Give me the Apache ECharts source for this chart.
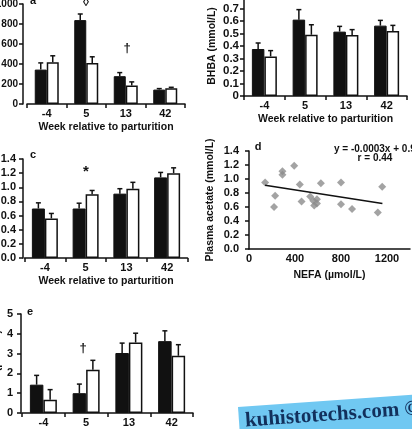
<!DOCTYPE html>
<html>
<head>
<meta charset="utf-8">
<script src="https://cdn.jsdelivr.net/npm/echarts@6/dist/echarts.min.js"></script>
<style>
  html, body { margin: 0; padding: 0; background: #fff; }
  #chart { width: 412px; height: 429px; }
</style>
</head>
<body>
<div id="chart"></div>
<script>
const weeks = ['-4', '5', '13', '42'];

// panel a
const aBlack = [344, 839, 278, 144];
const aBlackErr = [67, 61, 36, 10];
const aWhite = [418, 411, 184, 157];
const aWhiteErr = [64, 61, 37, 10];

// panel b, BHBA
const bBlack = [0.376, 0.611, 0.515, 0.563];
const bBlackErr = [0.048, 0.08, 0.042, 0.042];
const bWhite = [0.317, 0.49, 0.488, 0.52];
const bWhiteErr = [0.046, 0.08, 0.043, 0.045];

// panel c
const cBlack = [0.70, 0.70, 0.91, 1.14];
const cBlackErr = [0.08, 0.075, 0.07, 0.07];
const cWhite = [0.56, 0.90, 0.98, 1.20];
const cWhiteErr = [0.07, 0.055, 0.09, 0.075];

// panel d, NEFA vs acetate
const nefa = [140, 227, 218, 291, 291, 393, 442, 457, 532, 559, 567, 591, 591, 625, 800, 800, 896, 1120, 1158];
const acetate = [0.95, 0.76, 0.60, 1.11, 1.06, 1.19, 0.92, 0.68, 0.75, 0.69, 0.62, 0.71, 0.65, 0.94, 0.95, 0.64, 0.57, 0.52, 0.89];
const trendX = [140, 1160];
const trendY = [0.91, 0.65];

// panel e
const eBlack = [1.43, 1.0, 3.03, 3.63];
const eBlackErr = [0.47, 0.46, 0.5, 0.52];
const eWhite = [0.67, 2.18, 3.56, 2.89];
const eWhiteErr = [0.51, 0.48, 0.47, 0.56];

const ink = '#111';
const font = 'Liberation Sans, Arial, sans-serif';
const axisLine = { show: true, lineStyle: { color: ink, width: 1.5 } };
const tick = { show: true, length: 4, lineStyle: { color: ink, width: 1.5 } };
const labelStyle = { color: ink, fontSize: 11, fontWeight: 'bold', fontFamily: font };
const nameStyle = { color: ink, fontSize: 10.5, fontWeight: 'bold', fontFamily: font };

const grids = [
  { left: 27, top: 4, width: 158, height: 100 },
  { left: 244, top: -4, width: 163, height: 100 },
  { left: 24.5, top: 159, width: 163, height: 99 },
  { left: 249, top: 151, width: 161, height: 98 },
  { left: 22, top: 314, width: 171, height: 99 }
].map(g => Object.assign({ outerBoundsMode: 'none', containLabel: false }, g));

function catAxis(gridIndex, name) {
  return {
    type: 'category', gridIndex: gridIndex, data: weeks,
    axisLine: axisLine, axisTick: tick,
    axisLabel: Object.assign({}, labelStyle, { margin: 4 }),
    name: name || '', nameLocation: 'middle', nameGap: 18,
    nameTextStyle: Object.assign({ verticalAlign: 'top' }, nameStyle)
  };
}

function valAxis(gridIndex, max, interval, fmt, opts) {
  return {
    type: 'value', gridIndex: gridIndex, min: 0, max: max, interval: interval,
    offset: opts.offset || 0,
    splitLine: { show: false }, axisLine: axisLine, axisTick: tick,
    axisLabel: Object.assign({}, labelStyle, { margin: opts.margin, formatter: fmt, fontSize: opts.size || 11 }),
    name: opts.name || '', nameLocation: 'middle', nameGap: opts.nameGap || 20,
    nameTextStyle: nameStyle
  };
}

const plain = v => String(v);
const fix1 = v => v.toFixed(1);

function bars(idx, black, white, w) {
  return [
    { type: 'bar', xAxisIndex: idx, yAxisIndex: idx, data: black, barWidth: w, barGap: '0%',
      itemStyle: { color: ink, borderColor: ink, borderWidth: 1 }, silent: true },
    { type: 'bar', xAxisIndex: idx, yAxisIndex: idx, data: white, barWidth: w, barGap: '0%',
      itemStyle: { color: '#fff', borderColor: ink, borderWidth: 1.5 }, silent: true }
  ];
}

function errBars(idx, vals, errs, shift) {
  return {
    type: 'custom', xAxisIndex: idx, yAxisIndex: idx, silent: true, z: 3,
    data: vals.map((v, i) => [i, v, errs[i]]),
    renderItem: function (params, api) {
      const i = api.value(0), v = api.value(1), e = api.value(2);
      const p = api.coord([i, v]);
      const q = api.coord([i, v + e]);
      const x = p[0] + shift;
      const st = { stroke: ink, lineWidth: 1.5 };
      return {
        type: 'group',
        children: [
          { type: 'line', shape: { x1: x, y1: p[1], x2: x, y2: q[1] }, style: st },
          { type: 'line', shape: { x1: x - 2.5, y1: q[1], x2: x + 2.5, y2: q[1] }, style: st }
        ]
      };
    }
  };
}

function panel(idx, black, blackErr, white, whiteErr, w) {
  return bars(idx, black, white, w).concat([
    errBars(idx, black, blackErr, -w / 2),
    errBars(idx, white, whiteErr, w / 2)
  ]);
}

function txt(x, y, s, size, extra) {
  return {
    type: 'text', x: x, y: y,
    style: Object.assign({ text: s, fill: ink, font: 'bold ' + size + 'px ' + font, textAlign: 'center', textVerticalAlign: 'middle' }, extra || {})
  };
}

const series = [].concat(
  panel(0, aBlack, aBlackErr, aWhite, aWhiteErr, 12),
  panel(1, bBlack, bBlackErr, bWhite, bWhiteErr, 12.5),
  panel(2, cBlack, cBlackErr, cWhite, cWhiteErr, 13),
  [
    { type: 'scatter', xAxisIndex: 3, yAxisIndex: 3, symbol: 'diamond', symbolSize: 8,
      data: nefa.map((x, i) => [x, acetate[i]]), itemStyle: { color: '#8c8c8c' }, silent: true },
    { type: 'line', xAxisIndex: 3, yAxisIndex: 3, data: trendX.map((x, i) => [x, trendY[i]]),
      symbol: 'none', lineStyle: { color: ink, width: 1.5 }, silent: true }
  ],
  panel(4, eBlack, eBlackErr, eWhite, eWhiteErr, 13.5)
);

const chart = echarts.init(document.getElementById('chart'), null, { renderer: 'canvas' });
chart.setOption({
  animation: false,
  backgroundColor: '#fff',
  grid: grids,
  xAxis: [
    catAxis(0, 'Week relative to parturition'),
    catAxis(1, 'Week relative to parturition'),
    catAxis(2, 'Week relative to parturition'),
    {
      type: 'value', gridIndex: 3, min: 0, max: 1400, interval: 400,
      splitLine: { show: false }, axisLine: axisLine, axisTick: { show: false },
      axisLabel: Object.assign({}, labelStyle, { margin: 4, showMaxLabel: false, formatter: plain }),
      name: 'NEFA (µmol/L)', nameLocation: 'middle', nameGap: 21,
      nameTextStyle: Object.assign({ verticalAlign: 'top' }, nameStyle)
    },
    catAxis(4, '')
  ],
  yAxis: [
    valAxis(0, 1000, 200, plain, { offset: 4, margin: 5, size: 10 }),
    valAxis(1, 0.8, 0.1, v => v === 0 ? '0' : v.toFixed(1), { margin: 5, size: 11.5, name: 'BHBA (mmol/L)', nameGap: 26 }),
    valAxis(2, 1.4, 0.2, fix1, { offset: 1.5, margin: 7 }),
    valAxis(3, 1.4, 0.2, fix1, { margin: 10, name: 'Plasma acetate (mmol/L)', nameGap: 33 }),
    valAxis(4, 5, 1, plain, { offset: 1, margin: 8, name: 'CCK (pmol/L)', nameGap: 14 })
  ],
  series: series,
  graphic: [
    txt(33, 1, 'a', 11),
    txt(86, 3, '◊', 12),
    txt(127, 48, '†', 13),
    txt(33, 155, 'c', 11),
    txt(86, 172, '*', 15),
    txt(258, 147, 'd', 11),
    txt(334, 149, 'y = -0.0003x + 0.9', 10, { textAlign: 'left' }),
    txt(375, 158, 'r = 0.44', 10),
    txt(30, 312, 'e', 11),
    txt(83, 348, '†', 13),
    {
      type: 'group', x: 238, y: 407, rotation: 0.07,
      children: [
        { type: 'rect', shape: { x: 0, y: 0, width: 200, height: 40 }, style: { fill: '#70c8f2' } },
        { type: 'text', x: 6, y: 4,
          style: { text: 'kuhistotechs.com ©', fill: '#12305c', font: 'bold 21px "Liberation Serif", "DejaVu Serif", serif', textVerticalAlign: 'top' } }
      ]
    }
  ]
});
</script>
</body>
</html>
